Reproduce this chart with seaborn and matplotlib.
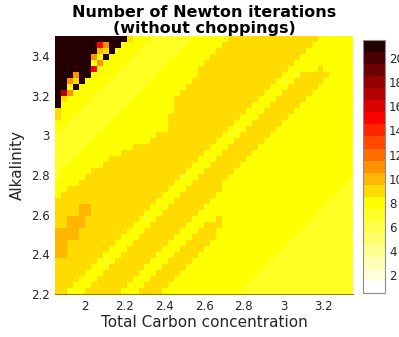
import numpy as np
import pandas as pd
import matplotlib
matplotlib.use("Agg")
import matplotlib.pyplot as plt
import seaborn as sns
from matplotlib.colors import ListedColormap

# ---------------- data ----------------
x_start = 1.85          # left edge of the grid (Total Carbon)
x_step = 0.03           # cell width
y_bottom = 2.2          # bottom edge (Alkalinity)
y_top = 3.5             # top edge

x_ticks = [2.0, 2.2, 2.4, 2.6, 2.8, 3.0, 3.2]
x_tick_labels = ["2", "2.2", "2.4", "2.6", "2.8", "3", "3.2"]
y_ticks = [2.2, 2.4, 2.6, 2.8, 3.0, 3.2, 3.4]
y_tick_labels = ["2.2", "2.4", "2.6", "2.8", "3", "3.2", "3.4"]
cbar_ticks = [2, 4, 6, 8, 10, 12, 14, 16, 18, 20]

# number of Newton iterations coded by letter
level_values = {"K": 21, "D": 17, "R": 15, "O": 11, "o": 10, "G": 9, "Y": 8, "L": 7}

# run-length encoded rows, top row (Alkalinity ~3.5) first, 50 cells each
rows_rle = [
    "K12 G1 Y3 L7 Y6 G15 Y6",
    "K7 R1 O1 K2 Y4 L7 Y6 G15 Y7",
    "K7 o1 G1 K1 Y4 L7 Y6 G15 Y8",
    "K6 O1 Y1 K1 Y4 L7 Y6 G15 Y9",
    "K6 Y1 O1 Y4 L7 Y6 G15 Y10",
    "K6 R1 Y4 L7 Y6 G15 Y5 G1 Y5",
    "K3 O1 K2 Y4 L7 Y7 G14 Y2 L1 G5 Y4",
    "K2 O1 G1 K1 Y4 L7 Y7 G14 Y1 L1 Y1 G5 Y5",
    "K2 Y1 K1 Y4 L7 Y7 G14 Y3 G5 Y6",
    "K1 D1 O1 Y4 L7 Y7 G14 Y3 G5 Y7",
    "K1 G1 Y4 L7 Y7 G14 Y3 G5 Y8",
    "K1 Y4 L7 Y8 G13 Y3 G5 Y9",
    "G1 Y3 L7 Y9 G12 Y3 G5 Y10",
    "G1 Y2 L7 Y9 G12 Y3 G5 Y11",
    "Y2 L7 Y10 G11 Y3 G5 Y12",
    "Y1 L7 Y11 G10 Y1 L1 Y1 G5 Y13",
    "L7 Y10 G11 Y1 L1 Y1 G5 Y14",
    "L6 Y10 G11 Y3 G5 Y15",
    "L5 Y8 G13 Y3 G5 Y16",
    "L4 Y7 G14 Y3 G5 Y17",
    "L3 Y6 G15 Y3 G5 Y18",
    "L2 Y6 G15 Y3 G5 Y19",
    "L1 Y5 G16 Y3 G5 Y20",
    "L1 Y4 G16 L1 Y2 G5 Y21",
    "Y4 G16 Y3 G5 Y21 L1",
    "Y2 G17 Y3 G6 Y20 L2",
    "Y1 G17 Y3 G6 Y20 L3",
    "G17 Y3 G6 Y20 L4",
    "G4 o2 G10 Y3 G6 Y20 L5",
    "G4 o2 G9 Y3 G6 Y20 L6",
    "G2 o3 G9 Y1 L1 Y1 G6 Y4 G1 Y15 L7",
    "G2 o3 G8 Y3 G6 Y3 G3 Y14 L8",
    "o4 G8 Y3 G6 Y3 G3 Y14 L9",
    "o4 G7 Y3 G6 Y3 G4 Y13 L10",
    "o2 G8 Y3 G6 Y3 G4 Y13 L11",
    "o2 G7 Y3 G6 Y3 G4 Y13 L12",
    "o2 G6 Y3 G6 Y3 G4 Y13 L13",
    "G7 Y1 L1 Y1 G6 Y3 G4 Y13 L14",
    "G6 Y3 G6 Y3 G4 Y13 L15",
    "G5 Y3 G6 Y3 G4 Y13 L16",
    "G4 Y3 G6 Y3 G4 Y13 L17",
    "G3 Y3 G6 Y3 G4 Y13 L18",
    "G2 L1 Y2 G6 Y3 G4 Y13 L19",
]

# ---------------- build table ----------------
grid = []
for row in rows_rle:
    vals = []
    for tok in row.split():
        vals += [level_values[tok[0]]] * int(tok[1:])
    grid.append(vals)
n_rows = len(grid)
n_cols = len(grid[0])
x_centers = [round(x_start + x_step * (i + 0.5), 3) for i in range(n_cols)]
y_step = (y_top - y_bottom) / n_rows
y_centers = [round(y_top - y_step * (j + 0.5), 3) for j in range(n_rows)]
df = pd.DataFrame(grid, index=y_centers, columns=x_centers)

# MATLAB-like flipud(hot(21))
m = 21
n = int(3 / 8 * m)
hot = []
for i in range(m):
    r = (i + 1) / n if i < n else 1.0
    g = 0.0 if i < n else ((i - n + 1) / n if i < 2 * n else 1.0)
    b = 0.0 if i < 2 * n else (i - 2 * n + 1) / (m - 2 * n)
    hot.append((min(r, 1), min(g, 1), min(b, 1)))
cmap = ListedColormap(hot[::-1])

# ---------------- figure ----------------
sns.set_style("white")
plt.rcParams["font.family"] = ["DejaVu Sans"]
text_col = "#262626"

fig = plt.figure(figsize=(3.99, 3.37), dpi=100)
ax = fig.add_axes([55 / 399, 1 - 294 / 337, 298.3 / 399, 258 / 337])
cax = fig.add_axes([362.7 / 399, 1 - 293.3 / 337, 22.3 / 399, 253.3 / 337])

sns.heatmap(df, ax=ax, cmap=cmap, vmin=0.5, vmax=21.5, cbar_ax=cax,
            xticklabels=False, yticklabels=False)

ax.set_xticks([(v - x_start) / x_step for v in x_ticks])
ax.set_xticklabels(x_tick_labels)
ax.set_yticks([(y_top - v) / y_step for v in y_ticks])
ax.set_yticklabels(y_tick_labels, rotation=0)
ax.tick_params(axis="both", direction="in", length=3, width=0.5,
               colors=text_col, labelsize=8.5, pad=4)
ax.set_xlabel("Total Carbon concentration", fontsize=11, color=text_col, labelpad=2)
ax.set_ylabel("Alkalinity", fontsize=11, color=text_col, labelpad=4)
ax.set_title("Number of Newton iterations\n(without choppings)",
             fontsize=11.5, fontweight="bold", color="black", pad=2, linespacing=1.1)
for side in ["top", "right", "left"]:
    ax.spines[side].set_visible(False)
ax.spines["bottom"].set_visible(True)
ax.spines["bottom"].set_color("#8a8214")
ax.spines["bottom"].set_linewidth(0.8)

cbar = ax.collections[0].colorbar
cbar.set_ticks(cbar_ticks)
cbar.set_ticklabels([str(t) for t in cbar_ticks])
cax.tick_params(direction="in", length=3, width=0.5, colors=text_col,
                labelsize=8.5, pad=3)
cbar.outline.set_visible(True)
cbar.outline.set_edgecolor("#8c8c8c")
cbar.outline.set_linewidth(0.8)

fig.savefig("out.png", dpi=100)
